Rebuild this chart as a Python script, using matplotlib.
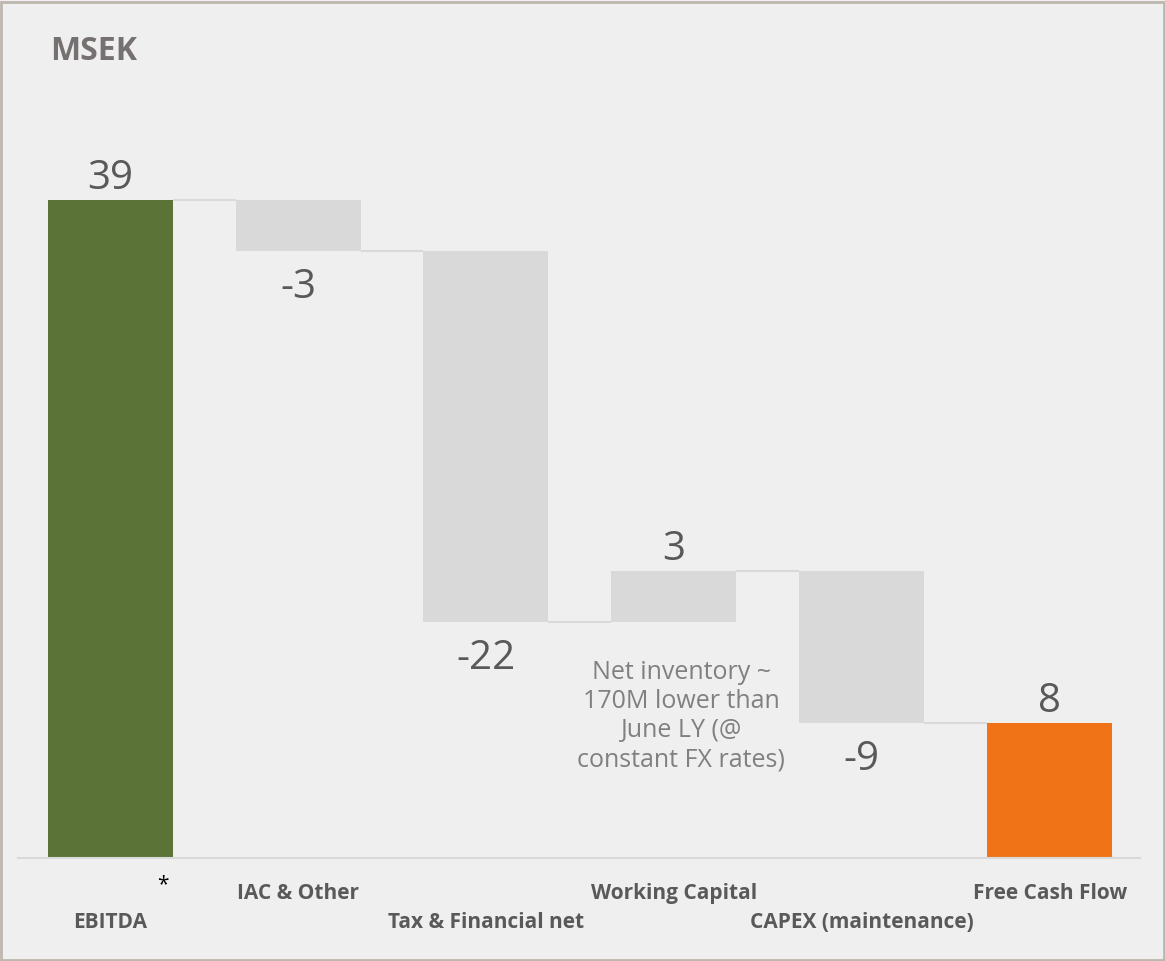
import matplotlib
matplotlib.use("Agg")
import matplotlib.pyplot as plt
from matplotlib.patches import Rectangle

# ---- data ----
categories = ["EBITDA", "IAC & Other", "Tax & Financial net", "Working Capital",
              "CAPEX (maintenance)", "Free Cash Flow"]
values = [39, -3, -22, 3, -9, 8]
kinds = ["total", "delta", "delta", "delta", "delta", "total"]
value_labels = ["39", "-3", "-22", "3", "-9", "8"]
note_text = "Net inventory ~\n170M lower than\nJune LY (@\nconstant FX rates)"
unit_label = "MSEK"

# ---- style ----
BG = "#efefef"
GREEN = "#5b7336"
ORANGE = "#f07317"
GREY_BAR = "#d9d9d9"
TXT = "#595959"
FONT = "Open Sans"

fig = plt.figure(figsize=(11.65, 9.61), dpi=100, facecolor=BG)
W, H = 1165, 961
ax = fig.add_axes([18 / W, 1 - 858 / H, (1140 - 18) / W, (858 - 99) / H])
ax.set_facecolor(BG)

x = list(range(len(categories)))
width = 0.665

bottoms, heights, colors = [], [], []
run = 0
for i, (v, k) in enumerate(zip(values, kinds)):
    if k == "total":
        b, h = 0, v
        run = v
        colors.append(GREEN if i == 0 else ORANGE)
    else:
        if v >= 0:
            b, h = run, v
        else:
            b, h = run + v, -v
        run += v
        colors.append(GREY_BAR)
    bottoms.append(b)
    heights.append(h)

ax.bar(x, heights, bottom=bottoms, width=width, color=colors, edgecolor="none", zorder=2)

# connectors
run = 0
levels = []
for v, k in zip(values, kinds):
    run = v if k == "total" else run + v
    levels.append(run)
for i in range(len(x) - 1):
    ax.plot([x[i] + width / 2, x[i + 1] - width / 2], [levels[i], levels[i]],
            color=GREY_BAR, lw=1.5, zorder=1, solid_capstyle="butt")

# value labels
for i, (v, lab) in enumerate(zip(values, value_labels)):
    top = bottoms[i] + heights[i]
    if v >= 0:
        ax.annotate(lab, (x[i], top), xytext=(0, 1), textcoords="offset points",
                    ha="center", va="bottom", fontsize=29, color=TXT, family=FONT)
    else:
        ax.annotate(lab, (x[i], bottoms[i]), xytext=(0, -12), textcoords="offset points",
                    ha="center", va="top", fontsize=29, color=TXT, family=FONT)

# category labels (alternating rows)
for i, cat in enumerate(categories):
    off = -25.5 if i % 2 == 1 else -46.5
    ax.annotate(cat, (x[i], 0), xytext=(0, off), textcoords="offset points",
                ha="center", va="center", fontsize=15, fontweight="bold",
                color=TXT, family=FONT, annotation_clip=False)
ax.annotate("*", (x[0], 0), xytext=(38, -19.5), textcoords="offset points",
            ha="center", va="center", fontsize=15, color="black", family=FONT,
            annotation_clip=False)

# note
ax.text(3.04, 8.4, note_text, ha="center", va="center", fontsize=18,
        color="#808080", family=FONT, linespacing=1.22)

ax.set_xlim(-0.49, 5.48)
ax.set_ylim(0, 45)
for s in ["top", "right", "left"]:
    ax.spines[s].set_visible(False)
ax.spines["bottom"].set_color(GREY_BAR)
ax.spines["bottom"].set_linewidth(1.5)
ax.set_xticks([])
ax.set_yticks([])

fig.text(50 / W, 1 - 51 / H, unit_label, ha="left", va="center", fontsize=23,
         fontweight="bold", color="#767171", family=FONT)

# figure border
fig.patches.append(Rectangle((0.001, 0.001), 0.998, 0.997, transform=fig.transFigure,
                             fill=False, edgecolor="#bdb6ae", lw=2))

fig.savefig("out.png", dpi=100, facecolor=BG)
